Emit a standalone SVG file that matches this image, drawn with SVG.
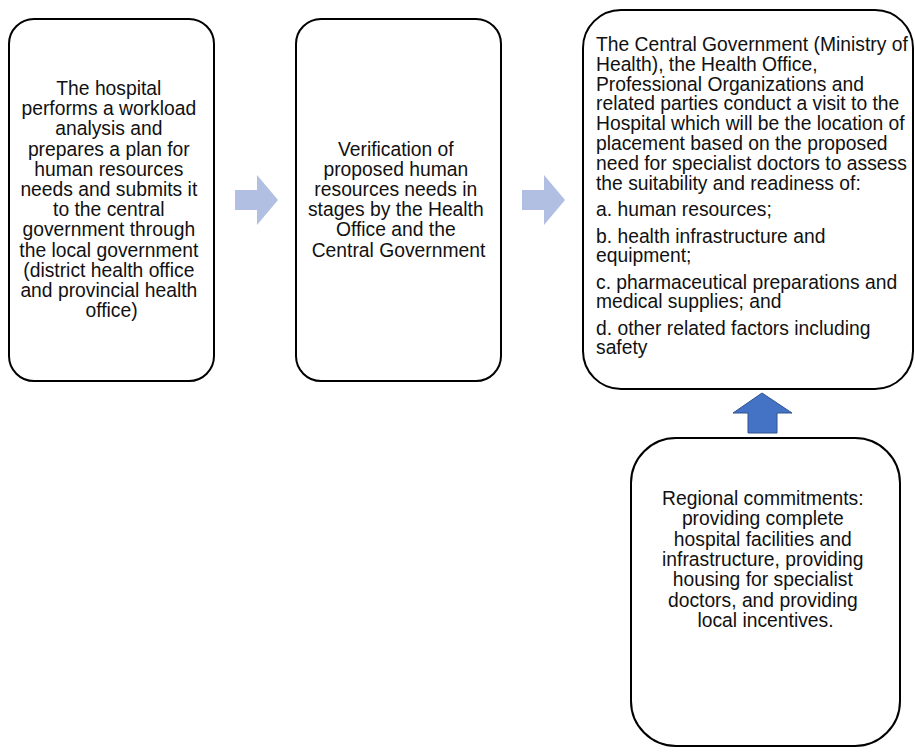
<svg xmlns="http://www.w3.org/2000/svg" width="915" height="753" viewBox="0 0 915 753">
<style>
.box{fill:#fff;stroke:#000;stroke-width:2}
.t{font-family:"Liberation Sans",Arial,sans-serif;font-size:19.3px;fill:#111}
.c{text-anchor:middle}
.la{fill:#B0BFE2}
.ua{fill:#4472C4;stroke:#2F528F;stroke-width:1}
</style>
<rect width="915" height="753" fill="#fff"/>
<g id="connectors">
<path class="la" d="M235,190 H257 V175 L278,200 L257,225 V210 H235 Z"/>
<path class="la" d="M522,190 H544 V175 L565,200 L544,225 V210 H522 Z"/>
<path class="ua" d="M762,393 L792,413 H777 V433 H748 V413 H733 Z"/>
</g>
<g id="node1">
<rect class="box" x="9" y="19" width="205" height="362" rx="25"/>
<text class="t c" x="111.5" y="95">
<tspan x="111.5">The hospital</tspan>
<tspan x="111.5" dy="20.2">performs a workload</tspan>
<tspan x="111.5" dy="20.2">analysis and</tspan>
<tspan x="111.5" dy="20.2">prepares a plan for</tspan>
<tspan x="111.5" dy="20.2">human resources</tspan>
<tspan x="111.5" dy="20.2">needs and submits it</tspan>
<tspan x="111.5" dy="20.2">to the central</tspan>
<tspan x="111.5" dy="20.2">government through</tspan>
<tspan x="111.5" dy="20.2">the local government</tspan>
<tspan x="111.5" dy="20.2">(district health office</tspan>
<tspan x="111.5" dy="20.2">and provincial health</tspan>
<tspan x="111.5" dy="20.2">office)</tspan>
</text>
</g>
<g id="node2">
<rect class="box" x="296" y="19" width="205" height="362" rx="25"/>
<text class="t c" x="398.5" y="155.5">
<tspan x="398.5">Verification of</tspan>
<tspan x="398.5" dy="20.2">proposed human</tspan>
<tspan x="398.5" dy="20.2">resources needs in</tspan>
<tspan x="398.5" dy="20.2">stages by the Health</tspan>
<tspan x="398.5" dy="20.2">Office and the</tspan>
<tspan x="398.5" dy="20.2">Central Government</tspan>
</text>
</g>
<g id="node3">
<rect class="box" x="583" y="10" width="330" height="379" rx="38"/>
<text class="t" x="596" y="51">
<tspan x="596">The Central Government (Ministry of</tspan>
<tspan x="596" dy="19.8">Health), the Health Office,</tspan>
<tspan x="596" dy="19.8">Professional Organizations and</tspan>
<tspan x="596" dy="19.8">related parties conduct a visit to the</tspan>
<tspan x="596" dy="19.8">Hospital which will be the location of</tspan>
<tspan x="596" dy="19.8">placement based on the proposed</tspan>
<tspan x="596" dy="19.8">need for specialist doctors to assess</tspan>
<tspan x="596" dy="19.8">the suitability and readiness of:</tspan>
<tspan x="596" dy="26.5">a. human resources;</tspan>
<tspan x="596" dy="26.5">b. health infrastructure and</tspan>
<tspan x="596" dy="19.5">equipment;</tspan>
<tspan x="596" dy="26.5">c. pharmaceutical preparations and</tspan>
<tspan x="596" dy="19.5">medical supplies; and</tspan>
<tspan x="596" dy="26.5">d. other related factors including</tspan>
<tspan x="596" dy="19.5">safety</tspan>
</text>
</g>
<g id="node4">
<rect class="box" x="631" y="438" width="269" height="308" rx="45"/>
<text class="t c" x="765.5" y="505">
<tspan x="765.5">Regional commitments:</tspan>
<tspan x="765.5" dy="20.3">providing complete</tspan>
<tspan x="765.5" dy="20.3">hospital facilities and</tspan>
<tspan x="765.5" dy="20.3">infrastructure, providing</tspan>
<tspan x="765.5" dy="20.3">housing for specialist</tspan>
<tspan x="765.5" dy="20.3">doctors, and providing</tspan>
<tspan x="765.5" dy="20.3">local incentives.</tspan>
</text>
</g>
</svg>
